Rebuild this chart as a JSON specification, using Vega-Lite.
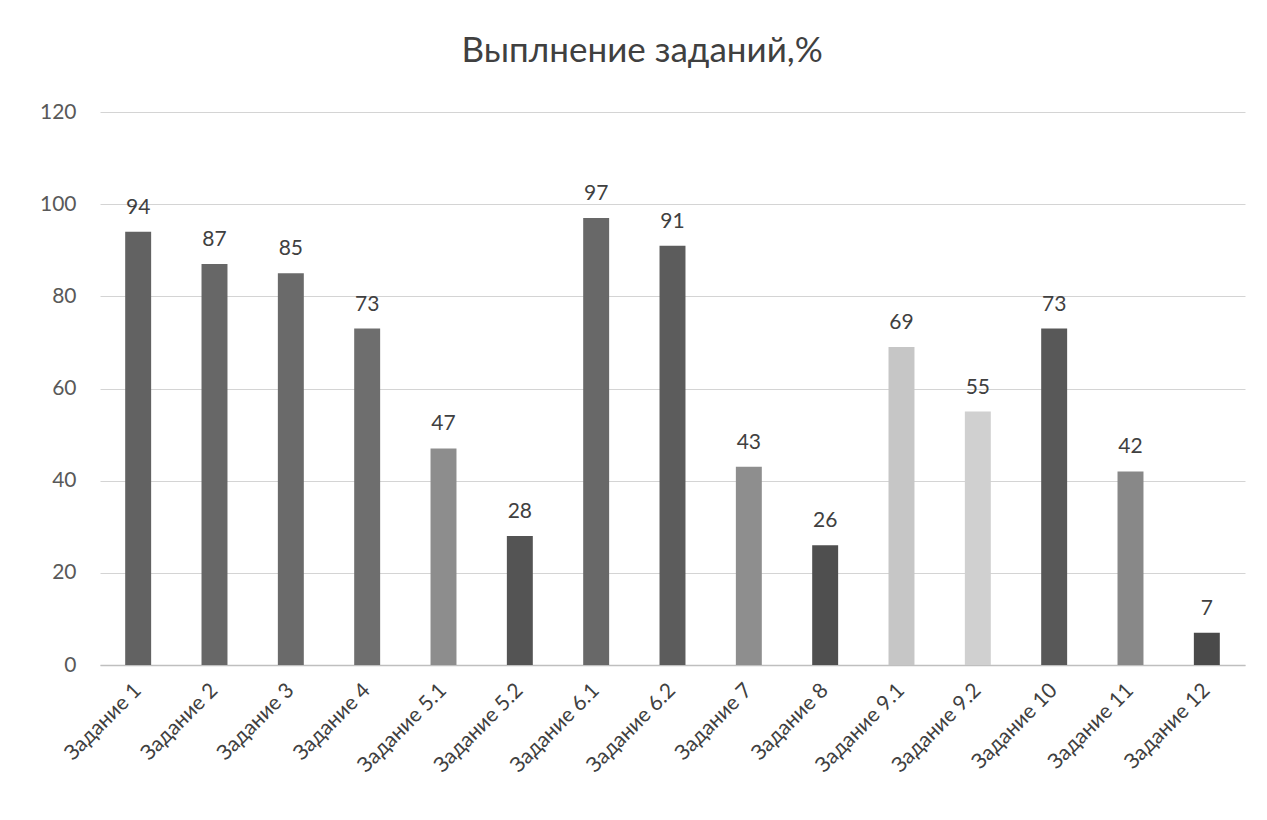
{
  "$schema": "https://vega.github.io/schema/vega-lite/v6.json",
  "autosize": {"type": "none"},
  "width": 1145,
  "height": 553,
  "padding": {"left": 100, "top": 112, "right": 22, "bottom": 155},
  "background": "white",
  "title": {
    "text": "Выплнение заданий,%",
    "font": "Lato",
    "fontSize": 35,
    "fontWeight": "normal",
    "color": "#404040",
    "anchor": "middle",
    "frame": "bounds",
    "offset": 32
  },
  "config": {"view": {"stroke": null}, "font": "Lato"},
  "data": {
    "values": [
      {"task": "Задание 1", "value": 94},
      {"task": "Задание 2", "value": 87},
      {"task": "Задание 3", "value": 85},
      {"task": "Задание 4", "value": 73},
      {"task": "Задание 5.1", "value": 47},
      {"task": "Задание 5.2", "value": 28},
      {"task": "Задание 6.1", "value": 97},
      {"task": "Задание 6.2", "value": 91},
      {"task": "Задание 7", "value": 43},
      {"task": "Задание 8", "value": 26},
      {"task": "Задание 9.1", "value": 69},
      {"task": "Задание 9.2", "value": 55},
      {"task": "Задание 10", "value": 73},
      {"task": "Задание 11", "value": 42},
      {"task": "Задание 12", "value": 7}
    ]
  },
  "encoding": {
    "x": {
      "field": "task",
      "type": "nominal",
      "sort": null,
      "scale": {"paddingInner": 0.66, "paddingOuter": 0.33},
      "axis": {
        "title": null,
        "labelAngle": -45,
        "labelAlign": "right",
        "labelBaseline": "middle",
        "labelFontSize": 21,
        "labelColor": "#404040",
        "labelPadding": 22,
        "labelDx": 8,
        "ticks": false,
        "domain": true,
        "domainColor": "#bfbfbf",
        "domainWidth": 1.5,
        "grid": false
      }
    },
    "y": {
      "field": "value",
      "type": "quantitative",
      "scale": {"domain": [0, 120], "nice": false},
      "axis": {
        "title": null,
        "values": [0, 20, 40, 60, 80, 100, 120],
        "labelFontSize": 21,
        "labelColor": "#595959",
        "labelPadding": 24,
        "ticks": false,
        "domain": false,
        "grid": true,
        "gridColor": "#d4d4d4",
        "gridWidth": 1
      }
    }
  },
  "layer": [
    {
      "mark": {"type": "bar"},
      "encoding": {
        "color": {
          "field": "task",
          "type": "nominal",
          "sort": null,
          "legend": null,
          "scale": {
            "domain": ["Задание 1", "Задание 2", "Задание 3", "Задание 4", "Задание 5.1", "Задание 5.2", "Задание 6.1", "Задание 6.2", "Задание 7", "Задание 8", "Задание 9.1", "Задание 9.2", "Задание 10", "Задание 11", "Задание 12"],
            "range": ["#626262", "#676767", "#6a6a6a", "#6e6e6e", "#8d8d8d", "#545454", "#686868", "#5c5c5c", "#8e8e8e", "#4f4f4f", "#c6c6c6", "#d0d0d0", "#585858", "#888888", "#4a4a4a"]
          }
        }
      }
    },
    {
      "mark": {"type": "text", "dy": -24, "fontSize": 21, "color": "#404040"},
      "encoding": {"text": {"field": "value", "type": "quantitative"}}
    }
  ]
}
